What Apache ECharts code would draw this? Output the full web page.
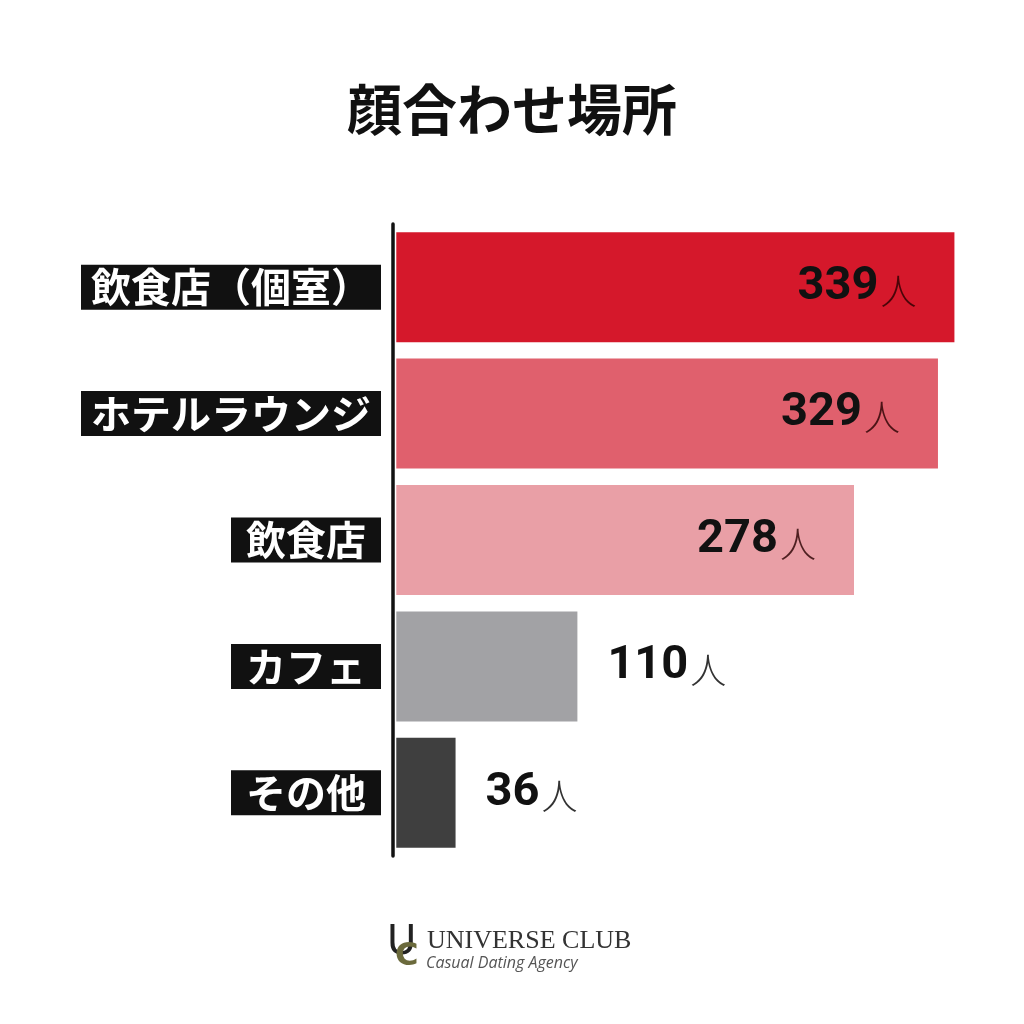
<!DOCTYPE html>
<html>
<head>
<meta charset="utf-8">
<style>html,body{margin:0;padding:0;background:#fff;}#c{width:1024px;height:1024px;}</style>
<script src="https://cdn.jsdelivr.net/npm/echarts@6/dist/echarts.min.js"></script>
</head>
<body>
<div id="c"></div>
<script>
const titleText = '顔合わせ場所';
const categories = ['飲食店（個室）', 'ホテルラウンジ', '飲食店', 'カフェ', 'その他'];
const values = [339, 329, 278, 110, 36];
const unit = '人';
const barColors = ['#d5182b', '#e0606d', '#e99fa6', '#a2a2a5', '#3f3f3f'];
const insideLabel = [true, true, true, false, false];

const chart = echarts.init(document.getElementById('c'), null, {renderer: 'canvas'});
const jp = '"Noto Sans CJK JP", sans-serif';

const seriesData = values.map((v, i) => ({
  value: v,
  itemStyle: {color: barColors[i]},
  label: insideLabel[i]
    ? {position: 'insideRight', distance: 38, rich: {u: {color: 'rgba(40,0,0,0.8)'}}}
    : {position: 'right', distance: 30, rich: {u: {color: '#333'}}}
}));

chart.setOption({
  animation: false,
  backgroundColor: '#fff',
  title: {
    text: titleText,
    left: 'center',
    top: 77,
    textStyle: {fontFamily: jp, fontSize: 55, fontWeight: 'bold', color: '#111'}
  },
  grid: {left: 393, right: 35, top: 224, height: 632},
  xAxis: {
    type: 'value', min: -2, max: 360, show: false
  },
  yAxis: {
    type: 'category',
    inverse: true,
    data: categories.map(c => ({
      value: c,
      textStyle: {padding: c.length <= 3 ? [3, 15, 1, 15] : [3, 10, 1, 10]}
    })),
    axisLine: {show: true, onZero: false, lineStyle: {color: '#111', width: 3.5}},
    axisTick: {show: false},
    axisLabel: {
      margin: 12,
      fontFamily: jp,
      fontSize: 40,
      fontWeight: 'bold',
      color: '#fff',
      backgroundColor: '#111',
      lineHeight: 41
    }
  },
  series: [{
    type: 'bar',
    data: seriesData,
    barWidth: 110,
    label: {
      show: true,
      formatter: p => '{n|' + p.value + '}{u|' + unit + '}',
      rich: {
        n: {fontFamily: 'Roboto, sans-serif', fontSize: 47, fontWeight: 'bold', color: '#111', padding: [0, 2, 0, 0]},
        u: {fontFamily: jp, fontSize: 36, fontWeight: 300, padding: [8, 0, 0, 0]}
      }
    }
  }],
  graphic: [
    {type: 'text', left: 387, top: 924, style: {text: 'U', fontFamily: '"DejaVu Sans", sans-serif', fontSize: 40, fill: '#222'}},
    {type: 'text', left: 395, top: 941, style: {text: 'C', fontFamily: '"DejaVu Sans", sans-serif', fontSize: 32, fontWeight: 'bold', fill: '#6b6a3c'}},
    {type: 'text', left: 427, top: 928, style: {text: 'UNIVERSE CLUB', fontFamily: '"Liberation Serif", serif', fontSize: 26, fill: '#333'}},
    {type: 'text', left: 426, top: 955, style: {text: 'Casual Dating Agency', fontFamily: '"Open Sans", sans-serif', fontStyle: 'italic', fontSize: 16, fill: '#555'}}
  ]
});
</script>
</body>
</html>
